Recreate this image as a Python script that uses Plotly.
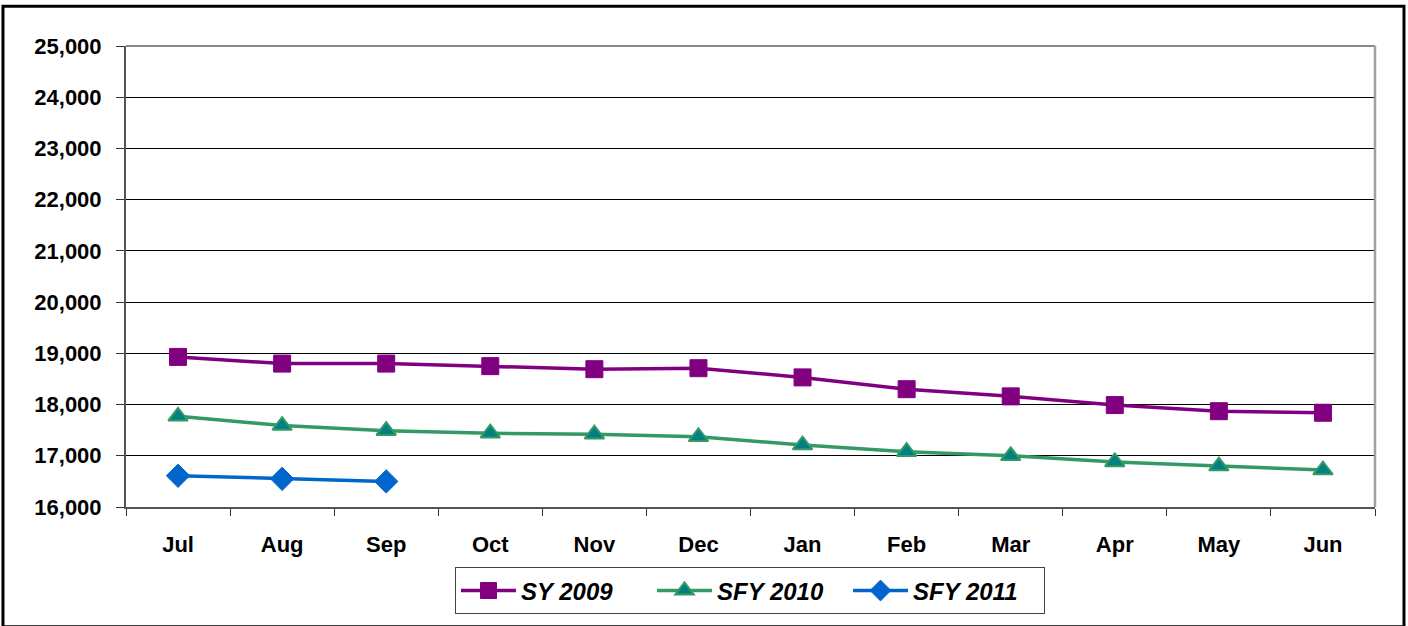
import plotly.graph_objects as go

months = ["Jul", "Aug", "Sep", "Oct", "Nov", "Dec", "Jan", "Feb", "Mar", "Apr", "May", "Jun"]
sy2009 = [18930, 18800, 18800, 18750, 18690, 18710, 18530, 18300, 18160, 17990, 17870, 17840]
sfy2010 = [17770, 17590, 17490, 17440, 17420, 17370, 17210, 17080, 17000, 16880, 16800, 16720]
sfy2011 = [16610, 16550, 16500]
y_ticks = [16000, 17000, 18000, 19000, 20000, 21000, 22000, 23000, 24000, 25000]

FONT = "Liberation Sans, Arial, sans-serif"

fig = go.Figure()
fig.add_trace(go.Scatter(
    x=months, y=sy2009, name="SY 2009", mode="lines+markers",
    line=dict(color="#800080", width=3.5),
    marker=dict(symbol="square", size=17, color="#800080", line=dict(color="#800080", width=1)),
))
fig.add_trace(go.Scatter(
    x=months, y=sfy2010, name="SFY 2010", mode="lines+markers",
    line=dict(color="#339966", width=3.5),
    marker=dict(symbol="triangle-up", size=17, color="#008080", line=dict(color="#339966", width=2)),
))
fig.add_trace(go.Scatter(
    x=months[:len(sfy2011)], y=sfy2011, name="SFY 2011", mode="lines+markers",
    line=dict(color="#0066CC", width=3.5),
    marker=dict(symbol="diamond", size=18, color="#0066CC", line=dict(color="#0066CC", width=1)),
))

fig.update_layout(
    width=1408, height=626,
    margin=dict(l=126, r=33, t=46, b=116),
    paper_bgcolor="white", plot_bgcolor="white",
    font=dict(family=FONT, color="black"),
    showlegend=True,
    legend=dict(
        orientation="h", x=0.4996, xanchor="center", y=-0.131, yanchor="top",
        font=dict(size=24, family=FONT, color="black", weight="bold", style="italic"),
        bordercolor="#444444", borderwidth=1, bgcolor="white",
        itemwidth=55, tracegroupgap=0, entrywidth=126, entrywidthmode="pixels",
    ),
    xaxis=dict(
        type="category", range=[-0.5, 11.5],
        showgrid=False, ticks="outside", tickson="boundaries", ticklen=7,
        tickcolor="#333333", showline=True, linecolor="#555555", linewidth=2,
        tickfont=dict(size=22, weight="bold"), ticklabelstandoff=17,
    ),
    yaxis=dict(
        range=[16000, 25000], tickvals=y_ticks, tickformat=",d",
        showgrid=True, gridcolor="#000000", gridwidth=1,
        ticks="outside", ticklen=8, tickcolor="#333333",
        showline=True, linecolor="#555555", linewidth=2,
        tickfont=dict(size=22, weight="bold"), zeroline=False, ticklabelstandoff=10,
    ),
    shapes=[
        dict(type="line", xref="paper", yref="paper", x0=0, x1=1, y0=1, y1=1,
             line=dict(color="#888888", width=2)),
        dict(type="line", xref="paper", yref="paper", x0=1, x1=1, y0=0, y1=1,
             line=dict(color="#a0a0a0", width=2.5)),
        dict(type="rect", xref="paper", yref="paper",
             x0=-0.0985, x1=1.0232, y0=-0.26, y1=1.0862,
             line=dict(color="black", width=3), layer="above"),
    ],
)

fig.write_html(
    "out.html",
    config={"displayModeBar": False},
    post_script="document.body.style.margin='0';document.body.style.overflow='hidden';",
)
